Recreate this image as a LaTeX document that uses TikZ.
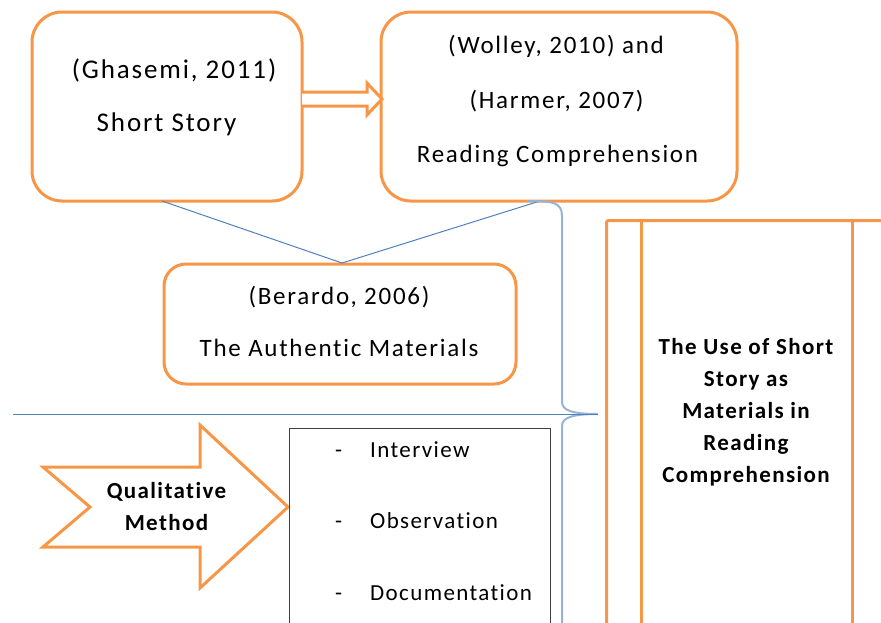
\documentclass[tikz,border=0pt]{standalone}
\usepackage{fontspec}
\setmainfont{Carlito}
\newfontfamily\cfa{Carlito}[LetterSpace=7,Ligatures={NoCommon}]
\newfontfamily\cfb{Carlito}[LetterSpace=6,Ligatures={NoCommon}]
\definecolor{orng}{HTML}{F79646}
\definecolor{lblue}{HTML}{4F81BD}
\definecolor{bblue}{HTML}{95B3D7}
\definecolor{dgray}{HTML}{404040}
\begin{document}
\begin{tikzpicture}[x=1pt,y=-1pt,
  rbox/.style={draw=orng, line width=3pt, fill=white, rounded corners=30pt, inner sep=0pt},
  txt/.style={inner sep=0pt, anchor=base, font=\cfa\fontsize{25}{29}\selectfont, text=black},
  bigtxt/.style={txt, font=\cfa\fontsize{27}{31}\selectfont},
  btxt/.style={txt, font=\cfb\bfseries\fontsize{23}{27}\selectfont},
  ltxt/.style={txt, anchor=base west, font=\cfb\fontsize{23}{27}\selectfont},
  bline/.style={draw=lblue, line width=1pt},
  brace/.style={draw=bblue, line width=2pt},
  oline/.style={draw=orng, line width=3pt}]
\useasboundingbox (0,0) rectangle (881,622);
\clip (0,0) rectangle (881,622);

% rounded boxes
\node[rbox, minimum width=270pt, minimum height=189pt] (ghasemi) at (167,106.5) {};
\node[rbox, minimum width=356pt, minimum height=189pt] (wolley) at (559,106.5) {};
\node[rbox, rounded corners=22pt, minimum width=352pt, minimum height=120pt] (berardo) at (340,324) {};

% box texts
\node[bigtxt] (g1) at (174,78) {(Ghasemi, 2011)};
\node[bigtxt] (g2) at (166.5,131) {Short Story};
\node[txt] (w1) at (556,53) {(Wolley, 2010) and};
\node[txt] (w2) at (556.5,108) {(Harmer, 2007)};
\node[txt] (w3) at (557.5,162) {Reading Comprehension};
\node[txt] (b1) at (339,304) {(Berardo, 2006)};
\node[txt] (b2) at (339,356) {The Authentic Materials};

% hollow double arrow
\draw[oline, fill=white, line join=miter] (302,92) -- (367,92) -- (367,83) -- (382,99) -- (367,115) -- (367,106) -- (302,106);

% connecting V lines
\coordinate (vl) at (162,201);
\coordinate (vm) at (342,263);
\coordinate (vr) at (540,201);
\draw[bline] (vl) -- (vm) -- (vr);

% brace
\coordinate (btop) at (527,201);
\coordinate (btip) at (598,414);
\coordinate (bbot) at (562,640);
\draw[brace] (btop) .. controls (552,201) and (562,202) .. (562,216) -- (562,402)
  .. controls (562,411) and (574,414) .. (btip)
  .. controls (574,414) and (562,417) .. (562,426) -- (bbot);

% horizontal line
\coordinate (hl) at (13,414);
\draw[bline] (hl) -- (btip);

% right box
\node[draw=orng, line width=3pt, rounded corners=2pt, minimum width=300pt, minimum height=430pt, anchor=north west, inner sep=0pt] (usebox) at (605,219) {};
\coordinate (i1t) at (641,219);
\coordinate (i1b) at (641,640);
\coordinate (i2t) at (852,219);
\coordinate (i2b) at (852,640);
\draw[oline] (i1t) -- (i1b);
\draw[oline] (i2t) -- (i2b);
\node[btxt] (u1) at (746,354) {The Use of Short};
\node[btxt] (u2) at (746,386) {Story as};
\node[btxt] (u3) at (746,418) {Materials in};
\node[btxt] (u4) at (746,450) {Reading};
\node[btxt] (u5) at (746,482) {Comprehension};

% qualitative arrow
\draw[oline, fill=white, line join=miter] (43,467) -- (200,467) -- (200,425) -- (288,507) -- (200,588) -- (200,547) -- (43,547) -- (90,507) -- cycle;
\node[btxt] (q1) at (166.5,498) {Qualitative};
\node[btxt] (q2) at (166.5,530) {Method};

% list box
\node[draw=dgray, line width=1.2pt, minimum width=261pt, minimum height=220pt, anchor=north west, inner sep=0pt] (list) at (289,428) {};
\node[ltxt] (d1) at (335,457) {-};
\node[ltxt] (l1) at (370,457) {Interview};
\node[ltxt] (d2) at (335,528) {-};
\node[ltxt] (l2) at (370,528) {Observation};
\node[ltxt] (d3) at (335,600) {-};
\node[ltxt] (l3) at (370,600) {Documentation};
\end{tikzpicture}
\end{document}
